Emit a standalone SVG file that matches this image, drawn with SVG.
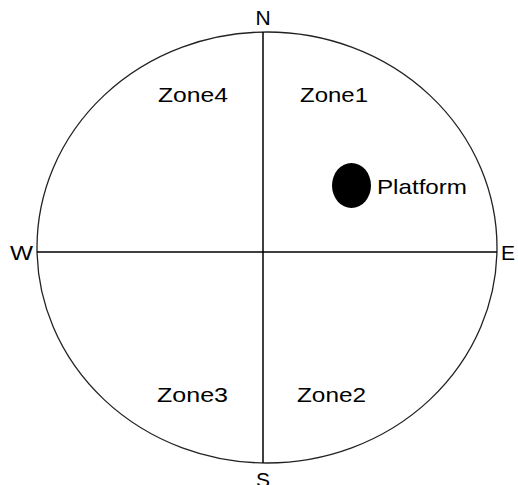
<svg xmlns="http://www.w3.org/2000/svg" width="518" height="485" viewBox="0 0 518 485">
<style>
text{font-family:"Liberation Sans",Arial,sans-serif;fill:#000;font-size:21px}
.ax{stroke:#000;stroke-width:1.5;fill:none}
</style>
<rect width="518" height="485" fill="#fff"/>
<g id="pool"><ellipse cx="267" cy="247.5" rx="230" ry="215.5" fill="none" stroke="#222" stroke-width="1.3"/></g>
<g id="connectors">
<line class="ax" x1="263" y1="32" x2="263" y2="463"/>
<line class="ax" x1="37" y1="252" x2="497" y2="252"/>
</g>
<g id="labels">
<text x="263" y="25" text-anchor="middle" font-size="18">N</text>
<text x="263" y="487" text-anchor="middle" font-size="18">S</text>
<text x="10" y="260" textLength="23" lengthAdjust="spacingAndGlyphs">W</text>
<text x="501" y="260" font-size="20">E</text>
</g>
<g id="zone4"><text x="158" y="102" textLength="70" lengthAdjust="spacingAndGlyphs">Zone4</text></g>
<g id="zone1"><text x="300" y="102" textLength="68" lengthAdjust="spacingAndGlyphs">Zone1</text></g>
<g id="zone3"><text x="157" y="402" textLength="71" lengthAdjust="spacingAndGlyphs">Zone3</text></g>
<g id="zone2"><text x="297" y="402" textLength="69" lengthAdjust="spacingAndGlyphs">Zone2</text></g>
<g id="platform">
<ellipse cx="351.5" cy="185.5" rx="19.5" ry="22.5" fill="#000"/>
<text x="377" y="194" textLength="90" lengthAdjust="spacingAndGlyphs">Platform</text>
</g>
</svg>
